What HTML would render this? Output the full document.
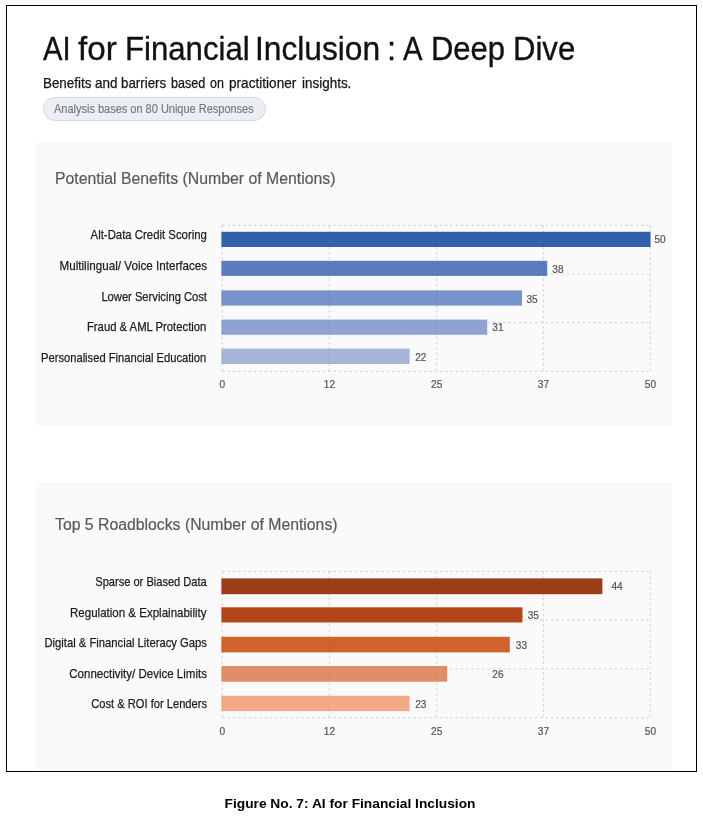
<!DOCTYPE html>
<html><head><meta charset="utf-8"><title>AI for Financial Inclusion</title>
<style>
html,body{margin:0;padding:0;background:#fff;}
body{width:703px;height:818px;position:relative;overflow:hidden;font-family:"Liberation Sans",sans-serif;}
.frame{position:absolute;left:6px;top:5px;width:689px;height:765px;border:1px solid #000;}
.card{position:absolute;left:36.4px;width:635.3px;background:#fafafa;}
.t{position:absolute;white-space:nowrap;line-height:1;margin:0;font-weight:400;}
.l{transform-origin:0 50%;}
.r{transform-origin:100% 50%;}
.c{transform-origin:50% 50%;}
.h{color:#111;-webkit-text-stroke:0.35px #111;}
.w span{position:absolute;top:0;transform-origin:0 50%;white-space:nowrap;}
.sub{color:#151515;-webkit-text-stroke:0.25px #151515;}
.pill{position:absolute;left:43.3px;top:96.8px;width:220.9px;height:22.6px;border-radius:12px;background:#ebeff3;border:1px solid #d4dae1;}
.pt{color:#73787e;-webkit-text-stroke:0.15px #73787e;}
.ct{color:#595959;-webkit-text-stroke:0.2px #595959;}
.yl{color:#1c1c1c;-webkit-text-stroke:0.25px #1c1c1c;}
.vl,.xl{color:#555;-webkit-text-stroke:0.2px #555;}
.cap{font-weight:700;color:#000;}
svg.ch{position:absolute;left:0;top:0;}
.g{stroke:#d9d9d9;stroke-width:1.2;stroke-dasharray:2.65 2.65;fill:none;}
</style></head><body>
<div class="frame"></div>
<div class="pill"></div>
<div class="card" style="top:142px;height:284px"></div>
<div class="card" style="top:481.5px;height:288px"></div>

<svg class="ch" width="703" height="818" viewBox="0 0 703 818"><line x1="222.2" y1="225.3" x2="650.4" y2="225.3" class="g"/>
<line x1="222.2" y1="274.0" x2="650.4" y2="274.0" class="g"/>
<line x1="222.2" y1="322.7" x2="650.4" y2="322.7" class="g"/>
<line x1="222.2" y1="371.4" x2="650.4" y2="371.4" class="g"/>
<rect x="221.4" y="231.8" width="429.1" height="15.2" fill="#fafafa"/>
<rect x="221.4" y="260.8" width="325.8" height="15.1" fill="#fafafa"/>
<rect x="221.4" y="290.4" width="300.6" height="15.2" fill="#fafafa"/>
<rect x="221.4" y="319.6" width="265.8" height="15.2" fill="#fafafa"/>
<rect x="221.4" y="348.6" width="188.2" height="15.4" fill="#fafafa"/>
<line x1="222.2" y1="225.3" x2="222.2" y2="371.4" class="g"/>
<line x1="329.4" y1="225.3" x2="329.4" y2="371.4" class="g"/>
<line x1="436.7" y1="225.3" x2="436.7" y2="371.4" class="g"/>
<line x1="543.4" y1="225.3" x2="543.4" y2="371.4" class="g"/>
<line x1="650.4" y1="225.3" x2="650.4" y2="371.4" class="g"/>
<rect x="221.4" y="231.8" width="429.1" height="15.2" fill="#2b56a6" fill-opacity="0.95"/>
<rect x="221.4" y="260.8" width="325.8" height="15.1" fill="#325dac" fill-opacity="0.8"/>
<rect x="221.4" y="290.4" width="300.6" height="15.2" fill="#3861b5" fill-opacity="0.68"/>
<rect x="221.4" y="319.6" width="265.8" height="15.2" fill="#395fb1" fill-opacity="0.56"/>
<rect x="221.4" y="348.6" width="188.2" height="15.4" fill="#395faf" fill-opacity="0.44"/><line x1="222.2" y1="571.3" x2="650.4" y2="571.3" class="g"/>
<line x1="222.2" y1="620.1" x2="650.4" y2="620.1" class="g"/>
<line x1="222.2" y1="668.8" x2="650.4" y2="668.8" class="g"/>
<line x1="222.2" y1="717.6" x2="650.4" y2="717.6" class="g"/>
<rect x="221.4" y="578.4" width="381.0" height="15.8" fill="#fafafa"/>
<rect x="221.4" y="607.3" width="301.1" height="15.2" fill="#fafafa"/>
<rect x="221.4" y="636.8" width="288.4" height="15.6" fill="#fafafa"/>
<rect x="221.4" y="666" width="225.8" height="15.7" fill="#fafafa"/>
<rect x="221.4" y="695.7" width="188.2" height="15.4" fill="#fafafa"/>
<line x1="222.2" y1="571.3" x2="222.2" y2="717.6" class="g"/>
<line x1="329.4" y1="571.3" x2="329.4" y2="717.6" class="g"/>
<line x1="436.7" y1="571.3" x2="436.7" y2="717.6" class="g"/>
<line x1="543.4" y1="571.3" x2="543.4" y2="717.6" class="g"/>
<line x1="650.4" y1="571.3" x2="650.4" y2="717.6" class="g"/>
<rect x="221.4" y="578.4" width="381.0" height="15.8" fill="#942d07" fill-opacity="0.92"/>
<rect x="221.4" y="607.3" width="301.1" height="15.2" fill="#ab3302" fill-opacity="0.9"/>
<rect x="221.4" y="636.8" width="288.4" height="15.6" fill="#c94d0f" fill-opacity="0.88"/>
<rect x="221.4" y="666" width="225.8" height="15.7" fill="#d76935" fill-opacity="0.75"/>
<rect x="221.4" y="695.7" width="188.2" height="15.4" fill="#f18853" fill-opacity="0.7"/></svg>
<h1 class="t w h" style="left:0;top:32.0px;font-size:33.6px;width:700px;height:33.6px"><span style="left:42.80px;transform:scaleX(0.8675)">AI</span> <span style="left:78.40px;transform:scaleX(0.9897)">for</span> <span style="left:125.44px;transform:scaleX(0.9281)">Financial</span> <span style="left:255.27px;transform:scaleX(0.9441)">Inclusion</span> <span style="left:386.97px;transform:scaleX(0.9750)">:</span> <span style="left:402.80px;transform:scaleX(0.8696)">A</span> <span style="left:430.75px;transform:scaleX(0.9227)">Deep</span> <span style="left:513.35px;transform:scaleX(0.9256)">Dive</span></h1>
<div class="t w sub" style="left:0;top:75.7px;font-size:14.5px;width:700px;height:14.5px"><span style="left:42.88px;transform:scaleX(0.9229)">Benefits</span> <span style="left:94.90px;transform:scaleX(0.9284)">and</span> <span style="left:121.10px;transform:scaleX(0.9182)">barriers</span> <span style="left:171.10px;transform:scaleX(0.8671)">based</span> <span style="left:210.20px;transform:scaleX(0.8591)">on</span> <span style="left:229.40px;transform:scaleX(0.9388)">practitioner</span> <span style="left:302.00px;transform:scaleX(0.9278)">insights.</span></div>
<div id="pt" class="t l pt" style="left:54.0px;top:102.8px;font-size:12px;transform:scaleX(0.9156);">Analysis bases on 80 Unique Responses</div>
<div id="ct1" class="t l ct" style="left:55.4px;top:170.9px;font-size:16px;transform:scaleX(0.9887);">Potential Benefits (Number of Mentions)</div>
<div id="ct2" class="t l ct" style="left:55.4px;top:516.9px;font-size:16px;transform:scaleX(0.9867);">Top 5 Roadblocks (Number of Mentions)</div>
<div id="yl0" class="t r yl" style="right:496.3px;top:229.0px;font-size:12.8px;transform:scaleX(0.8885);">Alt-Data Credit Scoring</div>
<div id="yl1" class="t r yl" style="right:496.3px;top:259.5px;font-size:12.8px;transform:scaleX(0.9105);">Multilingual/ Voice Interfaces</div>
<div id="yl2" class="t r yl" style="right:496.3px;top:290.5px;font-size:12.8px;transform:scaleX(0.8727);">Lower Servicing Cost</div>
<div id="yl3" class="t r yl" style="right:496.3px;top:321.2px;font-size:12.8px;transform:scaleX(0.8822);">Fraud &amp; AML Protection</div>
<div id="yl4" class="t r yl" style="right:496.3px;top:352.4px;font-size:12.8px;transform:scaleX(0.8730);">Personalised Financial Education</div>
<div id="yl5" class="t r yl" style="right:496.3px;top:576.1px;font-size:12.8px;transform:scaleX(0.8659);">Sparse or Biased Data</div>
<div id="yl6" class="t r yl" style="right:496.3px;top:606.9px;font-size:12.8px;transform:scaleX(0.9007);">Regulation &amp; Explainability</div>
<div id="yl7" class="t r yl" style="right:496.3px;top:637.3px;font-size:12.8px;transform:scaleX(0.8784);">Digital &amp; Financial Literacy Gaps</div>
<div id="yl8" class="t r yl" style="right:496.3px;top:668.4px;font-size:12.8px;transform:scaleX(0.9000);">Connectivity/ Device Limits</div>
<div id="yl9" class="t r yl" style="right:496.3px;top:698.4px;font-size:12.8px;transform:scaleX(0.8707);">Cost &amp; ROI for Lenders</div>
<div id="v0" class="t l vl" style="left:654.5px;top:234.5px;font-size:10.1px;">50</div>
<div id="v1" class="t l vl" style="left:552.3px;top:265.4px;font-size:10.1px;">38</div>
<div id="v2" class="t l vl" style="left:526.4px;top:295.1px;font-size:10.1px;">35</div>
<div id="v3" class="t l vl" style="left:492.3px;top:323.1px;font-size:10.1px;">31</div>
<div id="v4" class="t l vl" style="left:415.2px;top:352.5px;font-size:10.1px;">22</div>
<div id="v5" class="t l vl" style="left:611.4px;top:581.6px;font-size:10.1px;">44</div>
<div id="v6" class="t l vl" style="left:527.7px;top:611.0px;font-size:10.1px;">35</div>
<div id="v7" class="t l vl" style="left:515.8px;top:641.3px;font-size:10.1px;">33</div>
<div id="v8" class="t l vl" style="left:492.3px;top:670.0px;font-size:10.1px;">26</div>
<div id="v9" class="t l vl" style="left:415.2px;top:699.6px;font-size:10.1px;">23</div>
<div id="x0" class="t c xl" style="left:222.2px;top:379.9px;font-size:10.1px;transform:translateX(-50%);">0</div>
<div id="x1" class="t c xl" style="left:329.4px;top:379.9px;font-size:10.1px;transform:translateX(-50%);">12</div>
<div id="x2" class="t c xl" style="left:436.7px;top:379.9px;font-size:10.1px;transform:translateX(-50%);">25</div>
<div id="x3" class="t c xl" style="left:543.4px;top:379.9px;font-size:10.1px;transform:translateX(-50%);">37</div>
<div id="x4" class="t c xl" style="left:650.4px;top:379.9px;font-size:10.1px;transform:translateX(-50%);">50</div>
<div id="x5" class="t c xl" style="left:222.2px;top:726.9px;font-size:10.1px;transform:translateX(-50%);">0</div>
<div id="x6" class="t c xl" style="left:329.4px;top:726.9px;font-size:10.1px;transform:translateX(-50%);">12</div>
<div id="x7" class="t c xl" style="left:436.7px;top:726.9px;font-size:10.1px;transform:translateX(-50%);">25</div>
<div id="x8" class="t c xl" style="left:543.4px;top:726.9px;font-size:10.1px;transform:translateX(-50%);">37</div>
<div id="x9" class="t c xl" style="left:650.4px;top:726.9px;font-size:10.1px;transform:translateX(-50%);">50</div>
<div id="cap" class="t c cap" style="left:349.6px;top:796.6px;font-size:13.2px;transform:translateX(-50%) scaleX(1.0432);">Figure No. 7: AI for Financial Inclusion</div>
</body></html>
